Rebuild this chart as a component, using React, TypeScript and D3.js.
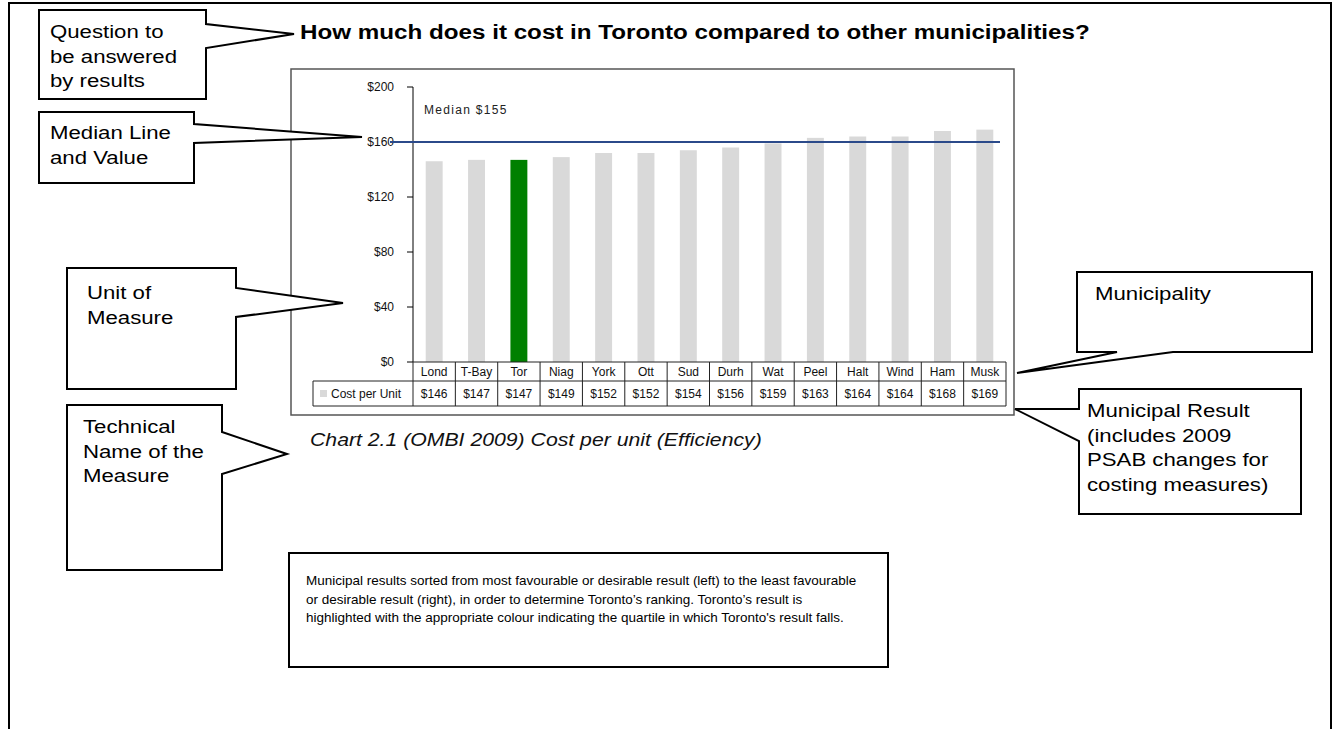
import React from "react";
import * as d3 from "d3";

const categories = ["Lond", "T-Bay", "Tor", "Niag", "York", "Ott", "Sud", "Durh", "Wat", "Peel", "Halt", "Wind", "Ham", "Musk"];
const costPerUnit = [146, 147, 147, 149, 152, 152, 154, 156, 159, 163, 164, 164, 168, 169];
const highlighted = "Tor";
const yTicks = [0, 40, 80, 120, 160, 200];
const medianLabel = "Median $155";
const medianLineValue = 160;
const seriesName = "Cost per Unit";
const title = "How much does it cost in Toronto compared to other municipalities?";
const caption = "Chart 2.1 (OMBI 2009) Cost per unit (Efficiency)";
const noteLines = [
  "Municipal results sorted from most favourable or desirable result (left) to the least favourable",
  "or desirable result (right), in order to determine Toronto\u2019s ranking. Toronto\u2019s result is",
  "highlighted with the appropriate colour indicating the quartile in which Toronto's result falls.",
];

type Callout = { path: string; x: number; y0: number; lines: string[] };
const callouts: Callout[] = [
  { path: "M39,10 H206 V24 L294,34 L206,48 V99 H39 Z", x: 50, y0: 38, lines: ["Question to", "be answered", "by results"] },
  { path: "M39,112 H194 V124 L362,137 L194,143 V183 H39 Z", x: 50, y0: 139, lines: ["Median Line", "and Value"] },
  { path: "M67,268 H236 V288 L343,303 L236,317 V389 H67 Z", x: 87, y0: 299, lines: ["Unit of", "Measure"] },
  { path: "M67,405 H222 V432 L287,454 L222,474 V570 H67 Z", x: 83, y0: 433, lines: ["Technical", "Name of the", "Measure"] },
  { path: "M1077,272 H1312 V352 H1173 L1017,373 L1117,352 H1077 Z", x: 1095, y0: 300, lines: ["Municipality"] },
  { path: "M1079,389 V409 L1015,409 L1079,441 V514 H1301 V389 Z", x: 1087, y0: 417, lines: ["Municipal Result", "(includes 2009", "PSAB changes for", "costing measures)"] },
];

const FONT = "'Liberation Sans', Arial, sans-serif";

function SText(props: { x: number; y: number; sx?: number; children: React.ReactNode; [k: string]: any }) {
  const { x, y, sx = 1, children, ...rest } = props;
  return (
    <text transform={`translate(${x},${y}) scale(${sx},1)`} {...rest}>{children}</text>
  );
}

export default function App() {
  const x0 = 413, x1 = 1006;
  const y = d3.scaleLinear().domain([0, 200]).range([362, 87]);
  const col = d3.scaleBand<string>().domain(categories).range([x0, x1]).padding(0);
  const bar = d3.scaleBand<string>().domain(categories).range([x0, x1]).paddingInner(0.6).paddingOuter(0.3);
  const row1 = y(0), row2 = row1 + 19, row3 = row2 + 25;
  const lineH = 24.5;
  const CSX = 1.2;

  return (
    <svg width={1336} height={729} style={{ position: "absolute", left: 0, top: 0, background: "#fff" }} fontFamily={FONT}>
      <rect x={9} y={3} width={1322} height={800} fill="none" stroke="#000" strokeWidth={2} />
      <SText x={300} y={39} sx={1.21} fontSize={20} fontWeight="bold" fill="#000">{title}</SText>

      {/* chart frame */}
      <rect x={291} y={69} width={723} height={346} fill="#fff" stroke="#555" strokeWidth={1.5} />

      {/* bars */}
      {categories.map((c, i) => (
        <rect key={c} x={bar(c)} y={y(costPerUnit[i])} width={bar.bandwidth()} height={y(0) - y(costPerUnit[i])}
          fill={c === highlighted ? "#008000" : "#d9d9d9"} />
      ))}

      {/* y axis */}
      <line x1={x0} x2={x0} y1={y(200)} y2={y(0)} stroke="#000" strokeWidth={1} />
      {yTicks.map((t) => (
        <g key={t}>
          <line x1={x0 - 6} x2={x0} y1={y(t)} y2={y(t)} stroke="#000" />
          <text x={394} y={y(t) + 4} fontSize={12} textAnchor="end" fill="#111">{"$" + t}</text>
        </g>
      ))}

      {/* median */}
      <line x1={390} x2={1000} y1={y(medianLineValue)} y2={y(medianLineValue)} stroke="#2b4a8a" strokeWidth={2} />
      <text x={424} y={114} fontSize={12} letterSpacing={1.3} fill="#222">{medianLabel}</text>

      {/* data table */}
      <g stroke="#222" strokeWidth={1} fill="none">
        <line x1={x0} x2={x1} y1={row1} y2={row1} />
        <line x1={313} x2={x1} y1={row2} y2={row2} />
        <line x1={313} x2={x1} y1={row3} y2={row3} />
        <line x1={313} x2={313} y1={row2} y2={row3} />
        {categories.map((c) => (
          <line key={c} x1={col(c)} x2={col(c)} y1={row1} y2={row3} />
        ))}
        <line x1={x1} x2={x1} y1={row1} y2={row3} />
      </g>
      {categories.map((c, i) => (
        <g key={c} fontSize={12} fill="#111" textAnchor="middle">
          <text x={(col(c) as number) + col.bandwidth() / 2} y={row1 + 14}>{c}</text>
          <text x={(col(c) as number) + col.bandwidth() / 2} y={row2 + 17}>{"$" + costPerUnit[i]}</text>
        </g>
      ))}
      <rect x={320} y={390} width={7} height={7} fill="#d9d9d9" />
      <text x={331} y={row2 + 17} fontSize={12} fill="#111">{seriesName}</text>

      <SText x={310} y={446} sx={1.18} fontSize={18} fontStyle="italic" fill="#111">{caption}</SText>

      {/* callouts */}
      {callouts.map((co, i) => (
        <g key={i}>
          <path d={co.path} fill="#fff" stroke="#000" strokeWidth={2} strokeLinejoin="miter" />
          {co.lines.map((l, j) => (
            <SText key={j} x={co.x} y={co.y0 + j * lineH} sx={CSX} fontSize={18.5} fill="#000">{l}</SText>
          ))}
        </g>
      ))}

      {/* note box */}
      <rect x={289} y={553} width={599} height={114} fill="#fff" stroke="#000" strokeWidth={2} />
      {noteLines.map((l, j) => (
        <SText key={j} x={306} y={585 + j * 18.5} sx={1.08} fontSize={12.5} fill="#000">{l}</SText>
      ))}
    </svg>
  );
}
